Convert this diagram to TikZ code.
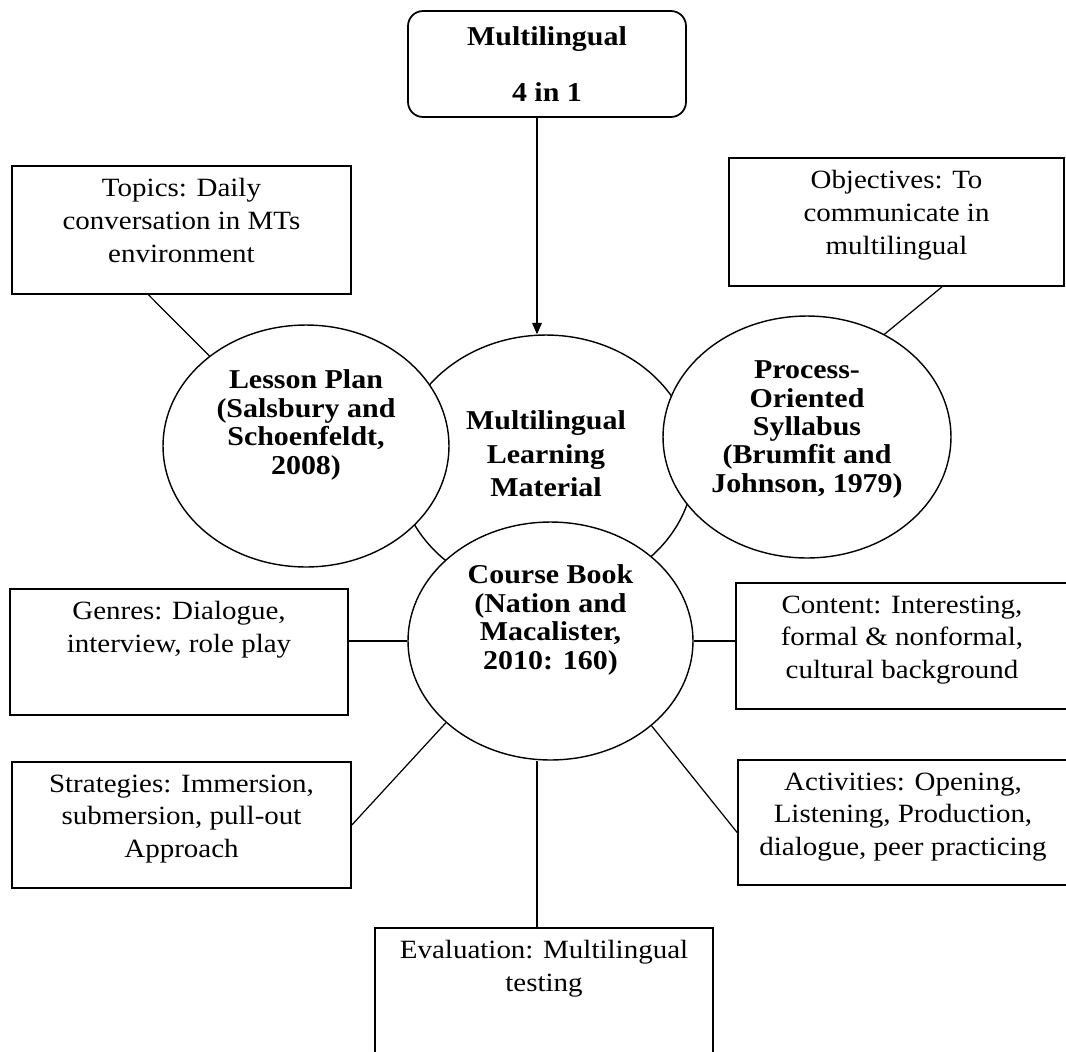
\documentclass[tikz,border=0pt]{standalone}
\usepackage{fontspec}
\setmainfont{Liberation Serif}[FakeStretch=1.1]
\usetikzlibrary{shapes.geometric,arrows.meta}

\begin{document}
\begin{tikzpicture}[x=0.02cm,y=-0.02cm,
    box/.style={draw, line width=1pt, inner sep=0pt, minimum width=6.78cm, minimum height=2.54cm},
    boxtext/.style={anchor=north, align=center, inner sep=0pt, yshift=-7.5pt, font=\fontsize{15}{18.6}\selectfont},
    bubble/.style={draw, ellipse, fill=white, line width=0.8pt, inner sep=0pt, minimum width=5.72cm, minimum height=4.84cm},
    bubbletext/.style={align=center, inner sep=0pt, font=\bfseries\fontsize{15.5}{16.2}\selectfont},
    link/.style={line width=0.7pt}]
    \useasboundingbox (0,0) rectangle (1066,1052);

    \node[draw, rounded corners=0.3cm, line width=1pt, minimum width=5.56cm, minimum height=2.12cm, align=center, font=\bfseries\fontsize{15.5}{16.2}\selectfont] (mtop) at (547,64) {Multilingual\\[16pt]4 in 1};

    \node[bubble, minimum width=5.92cm, minimum height=5.2cm, label={[bubbletext, yshift=0.22cm, font=\bfseries\fontsize{15.5}{19}\selectfont]center:{Multilingual\\Learning\\Material}}] (learning) at (546,465) {};
    \node[bubble, label={[bubbletext, yshift=0.42cm]center:{Lesson Plan\\(Salsbury and\\Schoenfeldt,\\2008)}}] (lesson) at (306,446) {};
    \node[bubble, minimum width=5.76cm, label={[bubbletext, yshift=0.15cm]center:{Process-\\Oriented\\Syllabus\\(Brumfit and\\Johnson, 1979)}}] (process) at (807,437) {};
    \node[bubble, minimum width=5.7cm, minimum height=4.76cm, label={[bubbletext, yshift=0.42cm]center:{Course Book\\(Nation and\\Macalister,\\2010: 160)}}] (course) at (550.5,641) {};

    \node[box, minimum height=2.56cm, label={[boxtext]north:{Topics: Daily\\conversation in MTs\\environment}}] (topics) at (181.5,230) {};
    \node[box, minimum width=6.7cm, minimum height=2.56cm, label={[boxtext]north:{Objectives: To\\communicate in\\multilingual}}] (objectives) at (896.5,222) {};
    \node[box, minimum width=6.76cm, minimum height=2.52cm, label={[boxtext]north:{Genres: Dialogue,\\interview, role play}}] (genres) at (179,652) {};
    \node[box, minimum width=6.64cm, minimum height=2.52cm, label={[boxtext]north:{Content: Interesting,\\formal \& nonformal,\\cultural background}}] (content) at (902,646) {};
    \node[box, minimum height=2.52cm, label={[boxtext]north:{Strategies: Immersion,\\submersion, pull-out\\Approach}}] (strategies) at (181.5,825) {};
    \node[box, minimum width=6.6cm, minimum height=2.5cm, label={[boxtext]north:{Activities: Opening,\\Listening, Production,\\dialogue, peer practicing}}] (activities) at (903,822.5) {};
    \node[box, minimum width=6.76cm, minimum height=2.84cm, label={[boxtext]north:{Evaluation: Multilingual\\testing}}] (evaluation) at (544,999) {};

    \draw[link, -{Triangle[width=5.5pt,length=6.5pt]}] ([xshift=-0.2cm]mtop.south) -- ([xshift=-0.2cm]mtop.south |- learning.north);
    \draw[link] ([xshift=-0.66cm]topics.south) -- (lesson.137);
    \draw[link] ([xshift=0.91cm]objectives.south) -- (process.53);
    \draw[link] (genres.east |- course.west) -- (course.west);
    \draw[link] (course.east) -- (course.east -| content.west);
    \draw[link] (strategies.east) -- (course.218);
    \draw[link] ([yshift=-0.2cm]activities.west) -- (course.320);
    \draw[link] ([xshift=-0.14cm]evaluation.north) -- ([xshift=-0.14cm]evaluation.north |- course.south);
\end{tikzpicture}
\end{document}
